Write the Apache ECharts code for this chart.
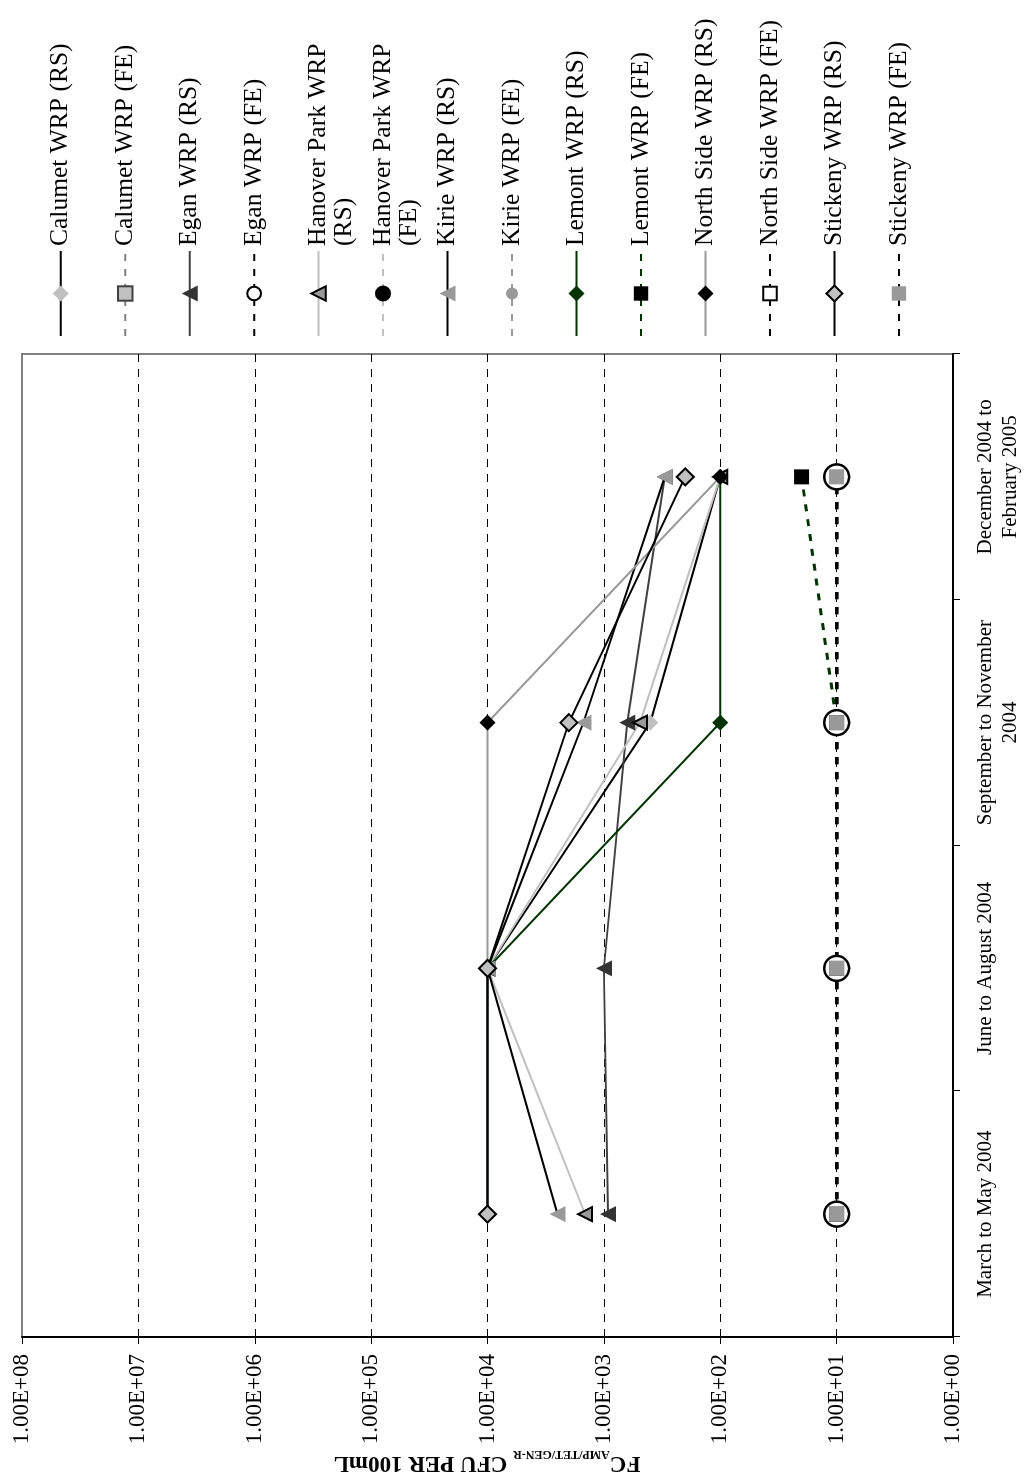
<!DOCTYPE html>
<html>
<head>
<meta charset="utf-8">
<script src="https://cdn.jsdelivr.net/npm/echarts@6/dist/echarts.min.js"></script>
<style>
  html, body { margin: 0; padding: 0; background: #fff; width: 1024px; height: 1475px; overflow: hidden; }
  /* the chart is laid out landscape and turned a quarter turn to stand on the page */
  #chart { position: absolute; left: 0; top: 0; width: 1475px; height: 1024px;
           transform-origin: 0 0; transform: translate(0, 1475px) rotate(-90deg); }
</style>
</head>
<body>
<div id="chart"></div>
<script>
// Sampling periods (category axis)
const periods = ['March to May 2004', 'June to August 2004', 'September to November\n2004', 'December 2004 to\nFebruary 2005'];

// Decade tick labels of the log axis, 10^0 .. 10^8
const tickLabels = ['1.00E+00', '1.00E+01', '1.00E+02', '1.00E+03', '1.00E+04', '1.00E+05', '1.00E+06', '1.00E+07', '1.00E+08'];

// FC AMP/TET/GEN-R, CFU per 100 mL (RS = raw sewage, FE = final effluent)
const calumetRS   = [10000, 10000, 400, 100];
const calumetFE   = [10, 10, 10, 10];
const eganRS      = [920, 1000, 630, 300];
const eganFE      = [10, 10, 10, 10];
const hanoverRS   = [1450, 10000, 490, 100];
const hanoverFE   = [10, 10, 10, 10];
const kirieRS     = [2500, 10000, 1500, 300];
const kirieFE     = [10, 10, 10, 10];
const lemontRS    = [10000, 10000, 100, 100];
const lemontFE    = [10, 10, 10, 20];
const northSideRS = [10000, 10000, 10000, 100];
const northSideFE = [10, 10, 10, 10];
const stickneyRS  = [10000, 10000, 2000, 200];
const stickneyFE  = [10, 10, 10, 10];

const serif = "'Liberation Serif', 'Times New Roman', serif";
const dash = [7, 8];

// name, values, line colour, line type, marker, marker size, fill, border colour, border width, legend icon height
const seriesDefs = [
  ['Calumet WRP (RS)',      calumetRS,   '#000000', 'solid', 'diamond',  16, '#c0c0c0', null,      0,   20],
  ['Calumet WRP (FE)',      calumetFE,   '#808080', dash,    'rect',     12, '#c0c0c0', '#404040', 1.5, 18],
  ['Egan WRP (RS)',         eganRS,      '#404040', 'solid', 'triangle', 16, '#333333', null,      0,   20],
  ['Egan WRP (FE)',         eganFE,      '#000000', dash,    'circle',   25, '#ffffff', '#000000', 2.5, 17],
  ['Hanover Park WRP (RS)', hanoverRS,   '#c0c0c0', 'solid', 'triangle', 14, '#999999', '#000000', 2,   18],
  ['Hanover Park WRP (FE)', hanoverFE,   '#c0c0c0', dash,    'circle',   13, '#000000', null,      0,   20],
  ['Kirie WRP (RS)',        kirieRS,     '#000000', 'solid', 'triangle', 16, '#999999', null,      0,   20],
  ['Kirie WRP (FE)',        kirieFE,     '#999999', dash,    'circle',   10, '#999999', null,      0,   15],
  ['Lemont WRP (RS)',       lemontRS,    '#003300', 'solid', 'diamond',  16, '#003300', null,      0,   20],
  ['Lemont WRP (FE)',       lemontFE,    '#003300', dash,    'rect',     15, '#000000', null,      0,   18],
  ['North Side WRP (RS)',   northSideRS, '#999999', 'solid', 'diamond',  16, '#000000', null,      0,   20],
  ['North Side WRP (FE)',   northSideFE, '#000000', dash,    'rect',     12, '#ffffff', '#000000', 2,   17],
  ['Stickeny WRP (RS)',     stickneyRS,  '#000000', 'solid', 'diamond',  17, '#c0c0c0', '#000000', 2,   20],
  ['Stickeny WRP (FE)',     stickneyFE,  '#000000', dash,    'rect',     15, '#999999', null,      0,   18]
];

const series = seriesDefs.map(d => ({
  name: d[0],
  type: 'line',
  data: d[1],
  symbol: d[4],
  symbolSize: d[5],
  showAllSymbol: true,
  lineStyle: { color: d[2], width: d[3] === 'solid' ? 2 : 3, type: d[3] },
  itemStyle: { color: d[6], borderColor: d[7] || d[6], borderWidth: d[8] },
  emphasis: { disabled: true },
  animation: false
}));

// one legend block per series, stacked down the right-hand side;
// the long Hanover Park names wrap, with the key sitting on their first line
const legendTop = 60.7, legendStep = 64.48, legendLine = 26;
const isLong = n => /^Hanover Park WRP /.test(n);
const legendText = n => isLong(n) ? '\n' + n.replace(/^(Hanover Park WRP) /, '$1\n') : n;
const legends = seriesDefs.map((d, i) => {
  const centre = legendTop + legendStep * i;
  return {
    data: [d[0]],
    left: 1138,
    top: centre - (isLong(d[0]) ? legendLine * 1.5 : legendLine / 2),
    orient: 'vertical',
    padding: 0,
    itemGap: 0,
    itemWidth: 85,
    itemHeight: d[9],
    selectedMode: false,
    formatter: legendText,
    textStyle: { fontFamily: serif, fontSize: 25.5, lineHeight: legendLine, color: '#000' }
  };
});

const chart = echarts.init(document.getElementById('chart'));
chart.setOption({
  backgroundColor: '#ffffff',
  animation: false,
  grid: {
    left: 138, right: 354, top: 22, bottom: 71,
    show: true, borderColor: '#808080', borderWidth: 2,
    containLabel: false, outerBoundsMode: 'none'
  },
  legend: legends,
  xAxis: {
    type: 'category',
    data: periods,
    boundaryGap: true,
    z: 3,
    axisLine: { lineStyle: { color: '#000', width: 2 } },
    axisTick: { show: true, interval: 0, length: 7, lineStyle: { color: '#000', width: 1 } },
    axisLabel: { interval: 0, margin: 20, fontFamily: serif, fontSize: 21, lineHeight: 25, color: '#000' },
    splitLine: { show: false }
  },
  yAxis: {
    type: 'log',
    logBase: 10,
    min: 1,
    max: 1e8,
    interval: 1,
    z: 3,
    axisLine: { show: true, lineStyle: { color: '#000', width: 2 } },
    axisTick: { show: true, length: 7, lineStyle: { color: '#000', width: 1 } },
    minorTick: { show: false },
    axisLabel: {
      margin: 17, fontFamily: serif, fontSize: 23, color: '#000',
      formatter: v => tickLabels[Math.round(Math.log10(v))]
    },
    splitLine: { show: true, showMinLine: false, showMaxLine: false, lineStyle: { color: '#000', width: 1, type: [8, 7] } }
  },
  graphic: [{
    type: 'text',
    x: 12,
    y: 487,
    rotation: Math.PI / 2,
    style: {
      text: '{b|FC}{s|AMP/TET/GEN-R}{b| CFU PER 100mL}',
      align: 'center',
      verticalAlign: 'middle',
      fill: '#000',
      rich: {
        b: { fontFamily: serif, fontWeight: 'bold', fontSize: 23, lineHeight: 30 },
        s: { fontFamily: serif, fontWeight: 'bold', fontSize: 12, lineHeight: 12, verticalAlign: 'bottom' }
      }
    }
  }],
  series: series
});
</script>
</body>
</html>
